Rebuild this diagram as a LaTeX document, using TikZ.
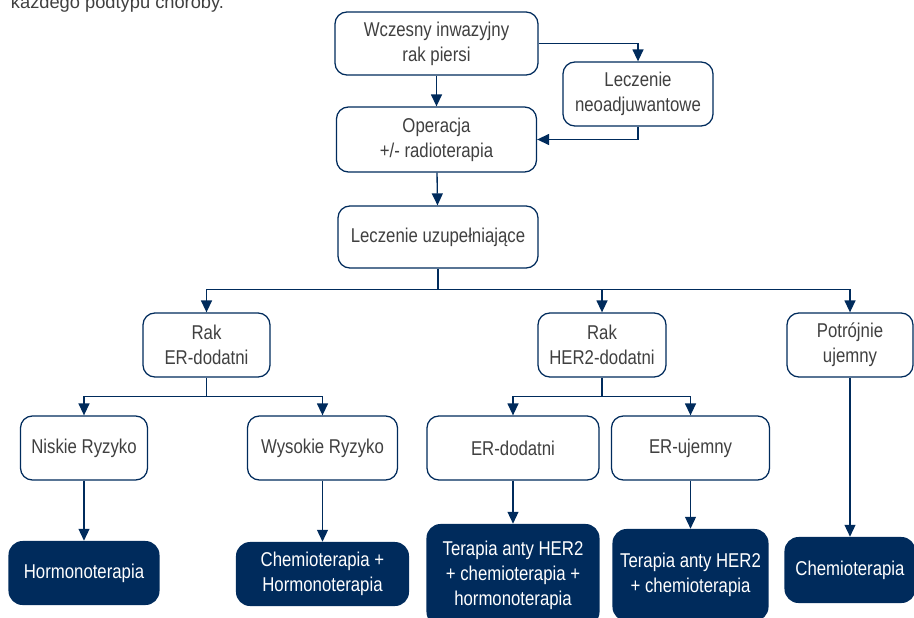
\documentclass[tikz,border=0pt]{standalone}
\usepackage{fontspec}
\setmainfont{Liberation Sans}[FakeStretch=0.84]
\newfontfamily\plainfont{Liberation Sans}
\usetikzlibrary{arrows.meta}
\definecolor{navy}{RGB}{0,43,92}
\definecolor{textgrey}{RGB}{64,64,64}
\tikzset{
	whitebox/.style={draw=navy, line width=0.9pt, rounded corners=8.5pt, fill=white, text=textgrey, align=center, inner sep=0pt, font=\fontsize{14.2}{17.8}\selectfont},
	darkbox/.style={fill=navy, rounded corners=10pt, text=white, align=center, inner sep=0pt, font=\fontsize{14.2}{17.8}\selectfont},
	link/.style={draw=navy, line width=0.95pt},
	arrow/.style={link, -{Triangle[length=8.5pt,width=7.8pt]}}
}

\begin{document}
\begin{tikzpicture}[x=0.025cm, y=-0.025cm]
			%%%%% START %%%%%
			\useasboundingbox (0, 0) rectangle (914, 618);
			\clip (0, 0) rectangle (914, 618);
			
			\node[anchor=base west, text=textgrey, font=\plainfont\fontsize{13}{16}\selectfont] (caption) at (6, 8) {każdego podtypu choroby.};
			
			\node[whitebox, minimum width=5.075cm, minimum height=1.575cm] (early) at (436.5, 43.5) {Wczesny inwazyjny\\rak piersi};
			\node[whitebox, minimum width=3.75cm, minimum height=1.6cm] (neo) at (638, 94) {Leczenie\\neoadjuwantowe};
			\node[whitebox, minimum width=5cm, minimum height=1.625cm] (surgery) at (436.5, 139.5) {Operacja\\+/- radioterapia};
			\node[whitebox, minimum width=5cm, minimum height=1.55cm] (adjuvant) at (438, 237) {Leczenie uzupełniające};
			
			\node[whitebox, minimum width=3.175cm, minimum height=1.6cm] (erpos) at (206.5, 345) {Rak\\ER-dodatni};
			\node[whitebox, minimum width=3.2cm, minimum height=1.6cm] (her2) at (602, 345) {Rak\\HER2-dodatni};
			\node[whitebox, minimum width=3.15cm, minimum height=1.6cm] (triple) at (850, 345) {Potrójnie\\ujemny};
			
			\node[whitebox, minimum width=3.175cm, minimum height=1.6cm] (low) at (84, 448) {Niskie Ryzyko};
			\node[whitebox, minimum width=3.75cm, minimum height=1.6cm] (high) at (322.5, 448) {Wysokie Ryzyko};
			\node[whitebox, minimum width=4.3cm, minimum height=1.6cm] (her2pos) at (513, 448) {ER-dodatni};
			\node[whitebox, minimum width=3.95cm, minimum height=1.6cm] (her2neg) at (690.5, 448) {ER-ujemny};
			
			\node[darkbox, minimum width=3.775cm, minimum height=1.6cm] (hormono) at (84, 573) {Hormonoterapia};
			\node[darkbox, minimum width=4.325cm, minimum height=1.6cm] (chemohormono) at (322.5, 574) {Chemioterapia +\\Hormonoterapia};
			\node[darkbox, minimum width=4.325cm, minimum height=2.55cm] (her2all) at (513, 575) {Terapia anty HER2\\+ chemioterapia +\\hormonoterapia};
			\node[darkbox, minimum width=3.9cm, minimum height=2.3cm] (her2chemo) at (690.5, 575) {Terapia anty HER2\\+ chemioterapia};
			\node[darkbox, minimum width=3.275cm, minimum height=1.65cm] (chemo) at (850, 570) {Chemioterapia};
			
			\draw[arrow] (early) -- (surgery);
			\draw[arrow] (early.east) -| (neo.north);
			\draw[arrow] (neo.south) |- (surgery.east);
			\draw[arrow] (surgery) -- (adjuvant);
			
			\draw[link] (adjuvant.south) -- ++(0, 21) coordinate (split1);
			\draw[arrow] (split1) -| (erpos.north);
			\draw[arrow] (split1) -| (her2.north);
			\draw[arrow] (split1) -| (triple.north);
			
			\draw[link] (erpos.south) -- ++(0, 19) coordinate (split2);
			\draw[arrow] (split2) -| (low.north);
			\draw[arrow] (split2) -| (high.north);
			
			\draw[link] (her2.south) -- ++(0, 19) coordinate (split3);
			\draw[arrow] (split3) -| (her2pos.north);
			\draw[arrow] (split3) -| (her2neg.north);
			
			\draw[arrow] (low) -- (hormono);
			\draw[arrow] (high) -- (chemohormono);
			\draw[arrow] (her2pos) -- (her2all);
			\draw[arrow] (her2neg) -- (her2chemo);
			\draw[arrow] (triple) -- (chemo);
			
			%%%%% END %%%%%
\end{tikzpicture}
\end{document}
